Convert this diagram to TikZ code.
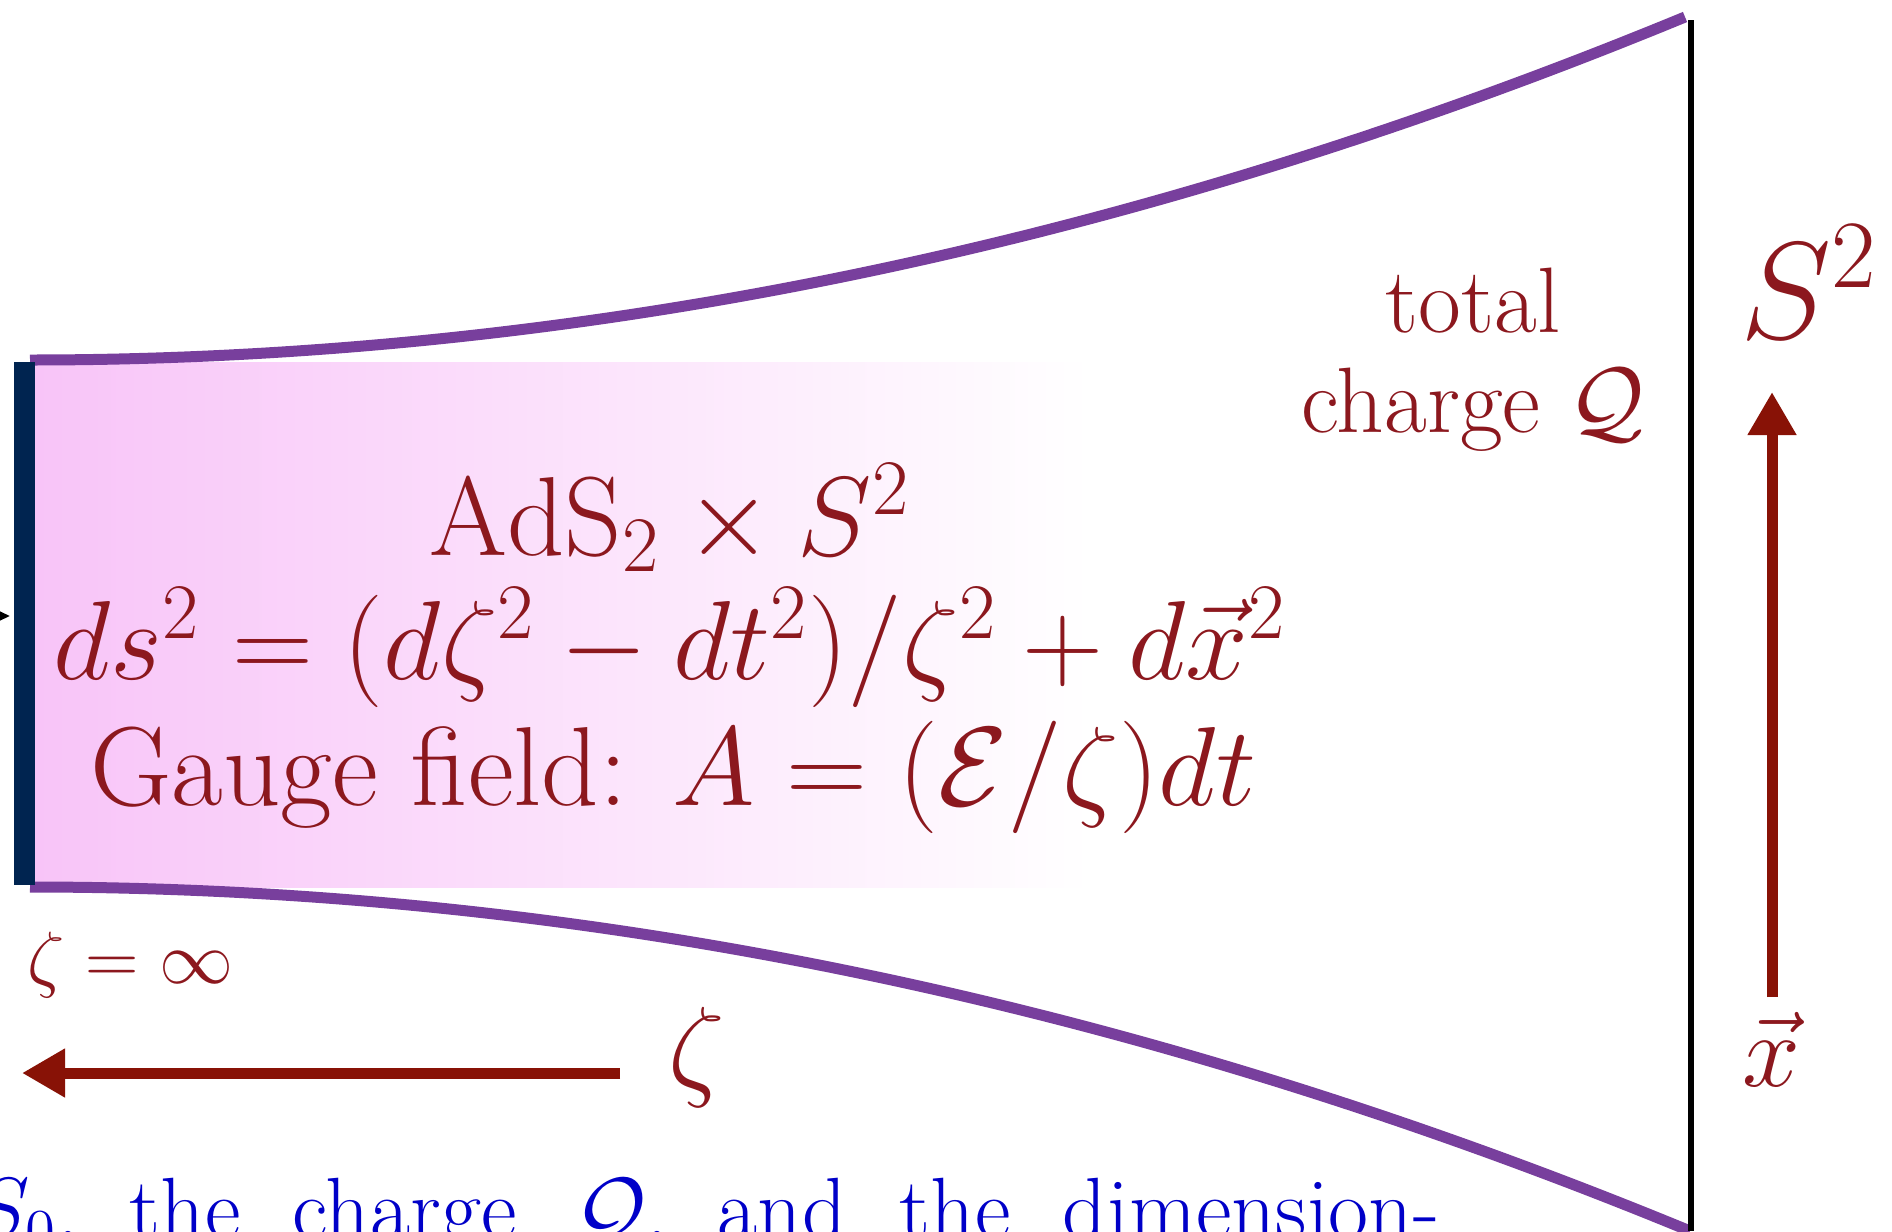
\RequirePackage{fix-cm}
\documentclass[tikz,border=0pt]{standalone}
\usetikzlibrary{arrows.meta}
\definecolor{txtred}{RGB}{140,24,30}
\definecolor{arrred}{RGB}{136,18,6}
\definecolor{purp}{RGB}{120,63,157}
\definecolor{navyb}{RGB}{0,36,80}
\definecolor{pinkL}{RGB}{248,196,248}
\definecolor{capblue}{RGB}{0,0,200}
\begin{document}
\begin{tikzpicture}[x=0.25pt,y=-0.25pt,
  lbl/.style={text=txtred, inner sep=0pt, anchor=base},
  captxt/.style={text=capblue, inner sep=0pt, anchor=base west, font=\fontsize{21.75}{26}\selectfont},
  bigarr/.style={draw=arrred, line width=2.75pt, -{Triangle[length=10.75pt,width=11.5pt]}},
  wall/.style={draw=purp, line width=2.75pt}]
\useasboundingbox (0,0) rectangle (1892,1231);
% pink gradient region
\shade[left color=pinkL, right color=white] (35,362) rectangle (1090,887);
% purple boundaries
\draw[wall] (30,360) .. controls (581,360) and (1132,245) .. (1685,17);
\draw[wall] (30,887) .. controls (581,887) and (1132,1001) .. (1690,1231);
% dark bar
\fill[navyb] (14,362) rectangle (35,885);
% black vertical line
\draw[line width=1.3pt] (1691,20) -- (1691,1231);
% small black arrow tip at left
\coordinate (lt) at (-40,616);
\coordinate (lh) at (10,616);
\draw[line width=0.8pt, -{Triangle[length=4pt,width=3.5pt]}] (lt) -- (lh);
% text block
\node[lbl, font=\fontsize{28.1}{33}\selectfont] (ads) at (670,555) {$\mathrm{AdS}_2\times S^2$};
\node[lbl, font=\fontsize{28.1}{33}\selectfont] (met) at (670,679) {$ds^2=(d\zeta^2-dt^2)/\zeta^2+d\vec{x}^2$};
\node[lbl, font=\fontsize{28.1}{33}\selectfont] (gauge) at (673,805) {Gauge field: $A=(\mathcal{E}/\zeta)dt$};
\node[lbl, align=center, font=\fontsize{23.25}{25}\selectfont] (tot) at (1473,432) {total\\charge $\mathcal{Q}$};
\node[lbl, anchor=base west, font=\fontsize{34.5}{40}\selectfont] (s2) at (1740,338) {$S^2$};
\node[lbl, font=\fontsize{26}{31}\selectfont] (xv) at (1771,1086) {$\vec{x}$};
\node[lbl, anchor=base west, font=\fontsize{18.5}{22}\selectfont] (zinf) at (27,983) {$\zeta=\infty$};
\node[lbl, anchor=base west, font=\fontsize{28.1}{33}\selectfont] (zeta) at (668,1085) {$\zeta$};
% arrows
\coordinate (va) at (1772,997);
\coordinate (vb) at (1772,392);
\draw[bigarr] (va) -- (vb);
\coordinate (ha) at (620,1073);
\coordinate (hb) at (22,1073);
\draw[bigarr] (ha) -- (hb);
% caption (cut off)
\node[captxt] (c1) at (-28,1238) {$S_0$,};
\node[captxt] (c2) at (129,1238) {the};
\node[captxt] (c3) at (292,1238) {charge};
\node[captxt] (c4) at (575,1238) {$\mathcal{Q}$,};
\node[captxt] (c5) at (717,1238) {and};
\node[captxt] (c6) at (899,1238) {the};
\node[captxt] (c7) at (1062,1238) {dimension-};
\end{tikzpicture}
\end{document}
